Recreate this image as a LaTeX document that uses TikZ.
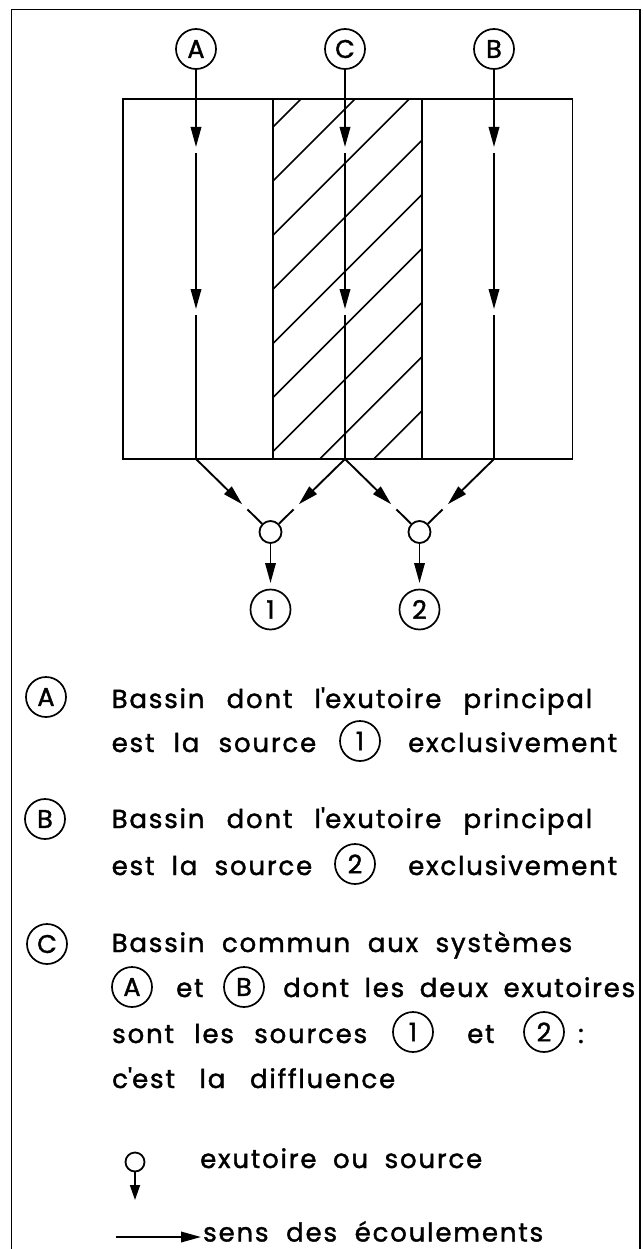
\documentclass[tikz,border=0pt]{standalone}
\usepackage{fontspec}
\setmainfont{Poppins}[LetterSpace=7,FakeBold=1.5]
\usetikzlibrary{arrows.meta,calc}
\begin{document}
\begin{tikzpicture}[x=1pt,y=-1pt,
  ln/.style={line width=1.9pt},
  flow/.style={line width=1.9pt,-{Triangle[length=20pt,width=10.5pt]}},
  lab/.style={circle,draw,line width=1.7pt,minimum size=40pt,inner sep=0pt,font=\fontsize{25.5}{30}\selectfont},
  outlet/.style={circle,draw,line width=1.8pt,minimum size=22pt,inner sep=0pt},
  txt/.style={anchor=base west,inner sep=0pt,font=\fontsize{26}{30}\selectfont},
]
\useasboundingbox (0,0) rectangle (642,1249);
\fill[white] (0,0) rectangle (642,1249);
% frame
\draw[ln] (11.5,1249) -- (11.5,9.5) -- (640,9.5) -- (640,1249);
% hatching
\begin{scope}
  \clip (273,99) rectangle (422,459);
  \foreach \k in {0,...,8}{
    \pgfmathsetmacro\cc{400+54.1*\k}
    \draw[line width=1.6pt] (\cc-459,459) -- (\cc-99,99);
  }
\end{scope}
% basin
\draw[ln] (123,99) rectangle (572.5,459);
\draw[ln] (273,99) -- (273,459);
\draw[ln] (422,99) -- (422,459);
% flows
\foreach \n/\x in {A/196,C/345,B/494}{
  \node[lab] (c\n) at (\x,49) {\n};
  \coordinate (j\n) at (\x,459);
  \draw[flow] (c\n) -- (\x,147);
  \draw[flow] (\x,153) -- (\x,309);
  \draw[ln] (\x,315) -- (j\n);
}
\node[outlet] (o1) at (270.5,532) {};
\node[outlet] (o2) at (419.5,532) {};
\node[lab] (s1) at (270.5,609.5) {1};
\node[lab] (s2) at (419.5,609.5) {2};
\foreach \j/\o in {jA/o1,jC/o1,jC/o2,jB/o2}{
  \draw[flow] (\j) -- ($(\j)!0.62!(\o)$);
  \draw[ln] ($(\j)!0.69!(\o)$) -- (\o);
}
\draw[flow] (o1) -- (270.5,583);
\draw[flow] (o2) -- (419.5,583);
% legend A
\node[lab] (lA) at (46,697) {A};
\node[txt] (tA1) at (111.5,708) {\makebox[480.5pt][s]{Bassin dont l\textquotesingle exutoire principal}};
\node[txt] (tA2) at (111.5,752) {\makebox[204.5pt][s]{est la source}};
\node[lab] (lA1) at (360,741) {1};
\node[txt] (tA3) at (408,752) {exclusivement};
% legend B
\node[lab] (lB) at (45,819) {B};
\node[txt] (tB1) at (111.5,828) {\makebox[480.5pt][s]{Bassin dont l\textquotesingle exutoire principal}};
\node[txt] (tB2) at (111.5,875) {\makebox[200.5pt][s]{est la source}};
\node[lab] (lB2) at (355,864) {2};
\node[txt] (tB3) at (408,875) {exclusivement};
% legend C
\node[lab] (lC) at (47,944) {C};
\node[txt] (tC1) at (111.5,952) {\makebox[460.5pt][s]{Bassin commun aux systèmes}};
\node[lab] (lCA) at (132,987) {A};
\node[txt] (tC2) at (176,997) {et};
\node[lab] (lCB) at (244,987) {B};
\node[txt] (tC3) at (283,997) {\makebox[352pt][s]{dont les deux exutoires}};
\node[txt] (tC4) at (112,1043) {\makebox[255pt][s]{sont les sources}};
\node[lab] (lC1) at (413,1032) {1};
\node[txt] (tC5) at (467,1043) {et};
\node[lab] (lC2) at (544,1032) {2};
\node[txt] (tC6) at (578,1043) {:};
\node[txt] (tC7) at (112,1088) {\makebox[283pt][s]{c\textquotesingle est la diffluence}};
% symbols
\node[outlet,minimum size=19pt] (lo) at (135,1162) {};
\coordinate (loe) at (135,1200);
\draw[line width=1.8pt,-{Triangle[length=15pt,width=10pt]}] (lo) -- (loe);
\node[txt] (tE) at (200,1168) {\makebox[282pt][s]{exutoire ou source}};
\coordinate (ls) at (116,1237);
\coordinate (le) at (201,1237);
\draw[flow] (ls) -- (le);
\node[txt] (tS) at (203,1241.5) {\makebox[340pt][s]{sens des écoulements}};
\end{tikzpicture}
\end{document}
